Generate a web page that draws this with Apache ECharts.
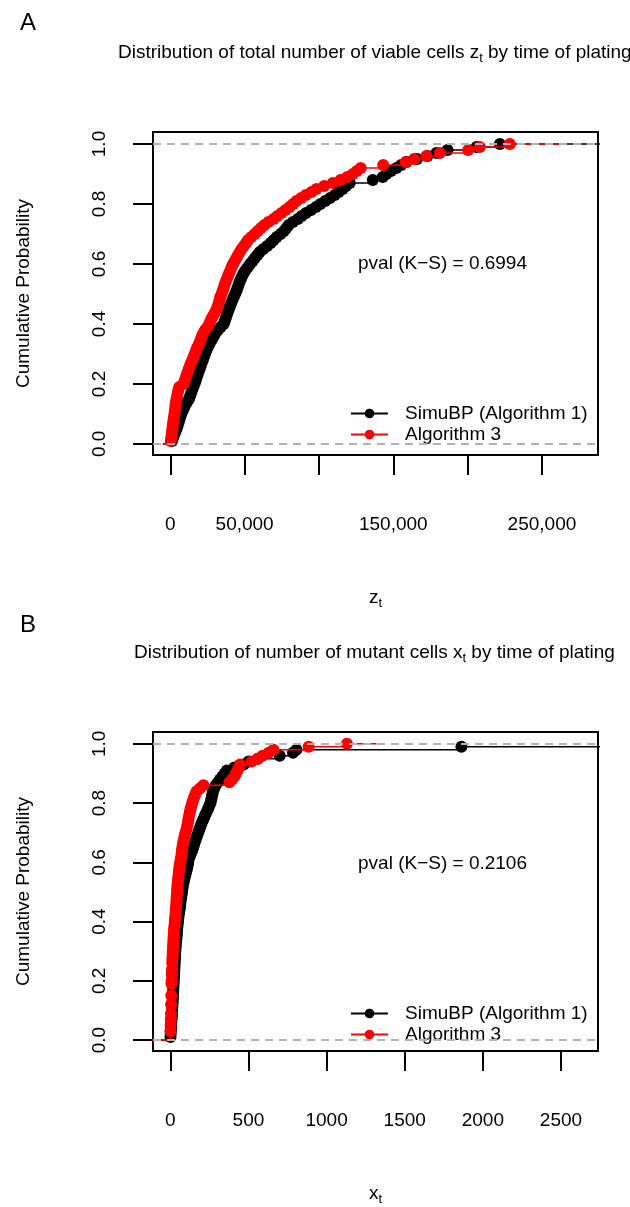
<!DOCTYPE html>
<html>
<head>
<meta charset="utf-8">
<script src="https://cdn.jsdelivr.net/npm/echarts@6/dist/echarts.min.js"></script>
<style>
  html, body { margin: 0; padding: 0; background: #fff; }
  #chart { width: 630px; height: 1207px; }
</style>
</head>
<body>
<div id="chart"></div>
<script>
// panel A: total number of viable cells z_t (sample values)
const zSimuBP = [
  1200, 1800, 2600, 3400, 4200, 4900, 5500, 6100, 6700, 7400,
  8300, 9200, 10100, 11300, 12600, 13300, 14000, 14700, 15500, 16300,
  17000, 17600, 18300, 19000, 19700, 20400, 21100, 21900, 22600, 23300,
  24100, 25000, 26000, 27000, 28200, 29300, 30400, 32100, 34000, 35900,
  36600, 37300, 38000, 38700, 39400, 40200, 41000, 41800, 42700, 43600,
  44500, 45200, 45900, 46600, 47500, 48400, 49400, 50700, 52200, 53700,
  55400, 56900, 58600, 60200, 62600, 65200, 67500, 69600, 71600, 74200,
  76500, 78100, 79700, 82500, 85800, 88400, 91300, 94700, 98000, 101000,
  104200, 107500, 110600, 113300, 116000, 118300, 120700, 136200, 142900, 145400,
  148500, 152100, 155300, 158900, 166000, 173000, 179000, 186500, 206000, 221700
];
const zAlg3 = [
  300, 600, 900, 1100, 1400, 1600, 1900, 2200, 2500, 2800,
  3000, 3300, 3500, 3800, 4200, 4600, 5000, 5400, 6000, 8800,
  9600, 10300, 11000, 11800, 12400, 13100, 13900, 14900, 15600, 16400,
  17200, 17900, 19000, 19800, 20600, 21300, 22300, 23400, 25000, 26200,
  27000, 27900, 29100, 30200, 31200, 31900, 32600, 33100, 33600, 34500,
  35200, 35900, 36500, 37200, 38000, 38800, 39600, 40500, 41300, 42200,
  43400, 44500, 45600, 46800, 48000, 49500, 51000, 52300, 54500, 56800,
  58900, 61000, 63300, 66000, 69500, 72000, 74800, 77500, 80200, 82600,
  84900, 88000, 91200, 95000, 98300, 103500, 109300, 114500, 119000, 122800,
  125500, 128100, 143200, 158400, 164000, 172300, 181300, 200400, 208200, 228400
];
// where each step line starts and ends (left of the minimum, right of the maximum)
const zSimuBPEnds = [-5000, 300000];
const zAlg3Ends = [-5100, 266700];
const zTicks = [0, 50000, 100000, 150000, 200000, 250000];
const zTickLabels = [0, 50000, 150000, 250000];

// panel B: number of mutant cells x_t
const xSimuBP = [
  1, 2, 3, 4, 5, 6, 8, 9, 11, 12,
  13, 14, 15, 16, 17, 18, 19, 20, 21, 22,
  23, 24, 25, 26, 27, 28, 29, 30, 31, 32,
  33, 35, 36, 38, 40, 42, 43, 45, 47, 49,
  51, 53, 56, 59, 62, 64, 66, 69, 72, 75,
  77, 80, 84, 88, 92, 97, 102, 107, 111, 114,
  117, 124, 132, 140, 146, 152, 158, 164, 171, 178,
  185, 192, 199, 207, 215, 223, 232, 241, 249, 257,
  261, 265, 269, 273, 281, 290, 305, 318, 333, 348,
  362, 410, 470, 500, 560, 700, 785, 807, 1863, 3000
];
const xAlg3 = [
  1, 1, 1, 2, 2, 3, 3, 4, 4, 5,
  5, 5, 6, 6, 6, 7, 7, 7, 7, 8,
  9, 9, 10, 11, 12, 12, 13, 14, 15, 16,
  17, 18, 19, 20, 21, 22, 23, 25, 27, 29,
  30, 32, 34, 35, 37, 38, 39, 40, 41, 43,
  44, 45, 47, 49, 51, 53, 55, 57, 60, 63,
  67, 70, 72, 74, 77, 80, 84, 88, 92, 97,
  103, 107, 111, 114, 117, 121, 125, 129, 134, 140,
  146, 152, 160, 168, 190, 212, 378, 395, 410, 420,
  430, 438, 446, 520, 560, 590, 630, 660, 885, 1130
];
const xSimuBPEnds = [-200, 3500];
const xAlg3Ends = [-200, 1319];
const xTicks = [0, 500, 1000, 1500, 2000, 2500];

const probTicks = [0, 0.2, 0.4, 0.6, 0.8, 1];

const FONT = "'Liberation Sans', Arial, sans-serif";
const BLACK = "#000000";
const RED = "#ff0000";

// empirical CDF: one point per distinct value, at the cumulative share
function ecdf(vals) {
  const s = vals.slice().sort((a, b) => a - b);
  const n = s.length;
  const out = [];
  for (let i = 0; i < n; i++) {
    if (i < n - 1 && s[i + 1] === s[i]) continue;
    out.push([s[i], (i + 1) / n]);
  }
  return out;
}

function stepData(vals, ends) {
  return [{ value: [ends[0], 0], symbol: "none" }]
    .concat(ecdf(vals))
    .concat([{ value: [ends[1], 1], symbol: "none" }]);
}

function stepSeries(name, color, idx, vals, ends, z) {
  return {
    name,
    type: "line",
    step: "end",
    xAxisIndex: idx,
    yAxisIndex: idx,
    symbol: "circle",
    symbolSize: 12,
    showSymbol: true,
    clip: true,
    z,
    lineStyle: { color, width: 1.5 },
    itemStyle: { color },
    emphasis: { disabled: true },
    data: stepData(vals, ends),
  };
}

function refLines(idx) {
  return {
    type: "line",
    xAxisIndex: idx,
    yAxisIndex: idx,
    data: [],
    z: 5,
    markLine: {
      silent: true,
      symbol: "none",
      label: { show: false },
      lineStyle: { color: "#b3b3b3", type: [8, 6], width: 2 },
      data: [{ yAxis: 0 }, { yAxis: 1 }],
    },
  };
}

const plain = { fontSize: 19, fontWeight: "normal", fontFamily: FONT, color: BLACK };
const rich = {
  a: { fontSize: 19, fontWeight: "normal", fontFamily: FONT, color: BLACK },
  s: { fontSize: 13, fontWeight: "normal", fontFamily: FONT, color: BLACK, padding: [11, 0, 0, 0] },
};

function xAxisFor(idx, min, max, ticks, labels, fmt, sub) {
  return {
    gridIndex: idx,
    type: "value",
    min,
    max,
    name: "{a|" + sub + "}{s|t}",
    nameLocation: "middle",
    nameGap: 131,
    nameTextStyle: { rich },
    axisLine: { show: false, onZero: false },
    axisTick: {
      show: true,
      length: 20,
      customValues: ticks,
      lineStyle: { color: BLACK, width: 2 },
    },
    axisLabel: {
      customValues: labels,
      margin: 60,
      fontSize: 19,
      fontFamily: FONT,
      color: BLACK,
      formatter: fmt,
    },
    splitLine: { show: false },
  };
}

function yAxisFor(idx) {
  return {
    gridIndex: idx,
    type: "value",
    min: -0.037,
    max: 1.04,
    name: "Cumulative Probability",
    nameLocation: "middle",
    nameGap: 120,
    nameTextStyle: plain,
    axisLine: { show: false, onZero: false },
    axisTick: {
      show: true,
      length: 20,
      customValues: probTicks,
      lineStyle: { color: BLACK, width: 2 },
    },
    axisLabel: {
      customValues: probTicks,
      rotate: 90,
      margin: 44,
      fontSize: 19,
      fontFamily: FONT,
      color: BLACK,
      formatter: (v) => v.toFixed(1),
    },
    splitLine: { show: false },
  };
}

function legendFor(top) {
  return {
    orient: "vertical",
    left: 350,
    top,
    padding: 0,
    itemWidth: 37,
    itemHeight: 12,
    itemGap: 2,
    selectedMode: false,
    data: ["SimuBP (Algorithm 1)", "Algorithm 3"],
    textStyle: {
      fontSize: 19,
      fontFamily: FONT,
      color: BLACK,
      padding: [0, 0, 0, 12],
    },
  };
}

const chart = echarts.init(document.getElementById("chart"), null, { renderer: "canvas" });

chart.setOption({
  animation: false,
  backgroundColor: "#ffffff",
  title: [
    { text: "A", left: 20, top: 11, padding: 0, textStyle: Object.assign({}, plain, { fontSize: 24 }) },
    {
      text: "{a|Distribution of total number of viable cells z}{s|t}{a| by time of plating}",
      left: 118,
      top: 41,
      padding: 0,
      textStyle: { rich },
    },
    { text: "pval (K\u2212S) = 0.6994", left: 358, top: 254, padding: 0, textStyle: plain },
    { text: "B", left: 20, top: 613, padding: 0, textStyle: Object.assign({}, plain, { fontSize: 24 }) },
    {
      text: "{a|Distribution of number of mutant cells x}{s|t}{a| by time of plating}",
      left: 134,
      top: 641,
      padding: 0,
      textStyle: { rich },
    },
    { text: "pval (K\u2212S) = 0.2106", left: 358, top: 854, padding: 0, textStyle: plain },
  ],
  legend: [legendFor(404), legendFor(1004)],
  grid: [
    { left: 153, top: 132, width: 445, height: 323, show: true, borderColor: BLACK, borderWidth: 2, backgroundColor: "transparent" },
    { left: 153, top: 732, width: 445, height: 323, show: true, borderColor: BLACK, borderWidth: 2, backgroundColor: "transparent" },
  ],
  xAxis: [
    xAxisFor(0, -11640, 287720, zTicks, zTickLabels, (v) => v.toLocaleString("en-US"), "z"),
    xAxisFor(1, -111, 2737, xTicks, xTicks, (v) => String(v), "x"),
  ],
  yAxis: [yAxisFor(0), yAxisFor(1)],
  series: [
    stepSeries("SimuBP (Algorithm 1)", BLACK, 0, zSimuBP, zSimuBPEnds, 2),
    stepSeries("Algorithm 3", RED, 0, zAlg3, zAlg3Ends, 3),
    refLines(0),
    stepSeries("SimuBP (Algorithm 1)", BLACK, 1, xSimuBP, xSimuBPEnds, 2),
    stepSeries("Algorithm 3", RED, 1, xAlg3, xAlg3Ends, 3),
    refLines(1),
  ],
});
</script>
</body>
</html>
